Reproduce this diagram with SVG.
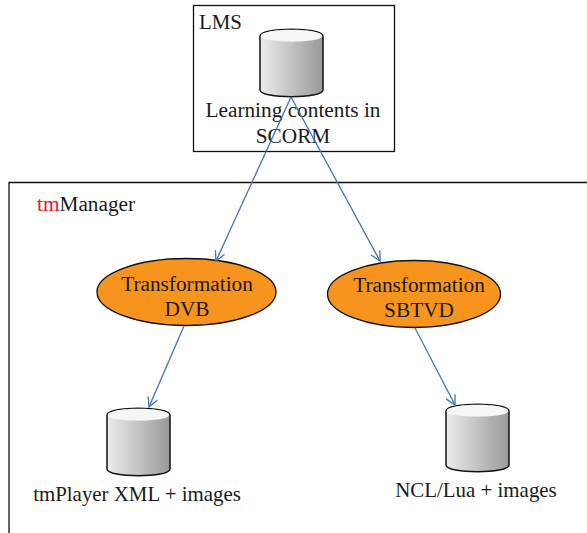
<svg xmlns="http://www.w3.org/2000/svg" width="587" height="533" viewBox="0 0 587 533">
<style>
text{font-family:"Liberation Serif","Times New Roman",serif;font-size:21.300px;fill:#1a1a1a;text-anchor:middle}
.s{text-anchor:start}
.l{font-size:20.900px}
.box{fill:none;stroke:#111;stroke-width:1.300}
.e{fill:#f7941e;stroke:#111;stroke-width:1.300}
.b{fill:url(#g);stroke:#111;stroke-width:1.500}
.t{fill:#f5f7f6}
.c{fill:none;stroke:#3f74bb;stroke-width:1.300}
</style>
<defs>
<linearGradient id="g" x1="0" x2="1" y1="0" y2="0"><stop offset="0" stop-color="#ececec"/><stop offset="1" stop-color="#999"/></linearGradient>
<marker id="a" viewBox="-10 -6 11 12" markerWidth="11" markerHeight="12" refX="0" refY="0" orient="auto" markerUnits="userSpaceOnUse"><path d="M-9.500 -5L0 0L-9.500 5" fill="none" stroke="#3f74bb" stroke-width="1.300"/></marker>
<g id="cyl"><path class="b" d="M0 7C0 -2 63 -2 63 7V61C63 70 0 70 0 61Z"/><path class="t" d="M0.800 7C0.800 -1.200 62.200 -1.200 62.200 7C62.200 14.500 0.800 14.500 0.800 7Z"/></g>
</defs>
<g id="tmManager"><path class="box" d="M9 533V182.500H587"/><text class="s" x="37" y="211"><tspan fill="#e0202c">tm</tspan>Manager</text></g>
<g id="lms"><rect class="box" x="193.500" y="5.500" width="201" height="146"/><text class="s l" x="199" y="29">LMS</text><use href="#cyl" x="260" y="29"/><text x="293" y="117">Learning contents in</text><text x="293" y="143">SCORM</text></g>
<g id="dvb"><ellipse class="e" cx="186.500" cy="292" rx="89.500" ry="33.500"/><text x="187" y="291">Transformation</text><text x="187" y="316">DVB</text></g>
<g id="sbtvd"><ellipse class="e" cx="414" cy="294" rx="86.500" ry="33.500"/><text x="419" y="292">Transformation</text><text x="419" y="317">SBTVD</text></g>
<g id="xml"><use href="#cyl" x="107" y="408"/><text class="l" x="137" y="501">tmPlayer XML + images</text></g>
<g id="ncl"><use href="#cyl" x="446" y="404"/><text class="l" x="476" y="497">NCL/Lua + images</text></g>
<g id="connectors">
<path class="c" marker-end="url(#a)" d="M291 97L216 261"/>
<path class="c" marker-end="url(#a)" d="M291 97L380 261"/>
<path class="c" marker-end="url(#a)" d="M184 326L149 407"/>
<path class="c" marker-end="url(#a)" d="M415 328L455 405"/>
</g>
</svg>
